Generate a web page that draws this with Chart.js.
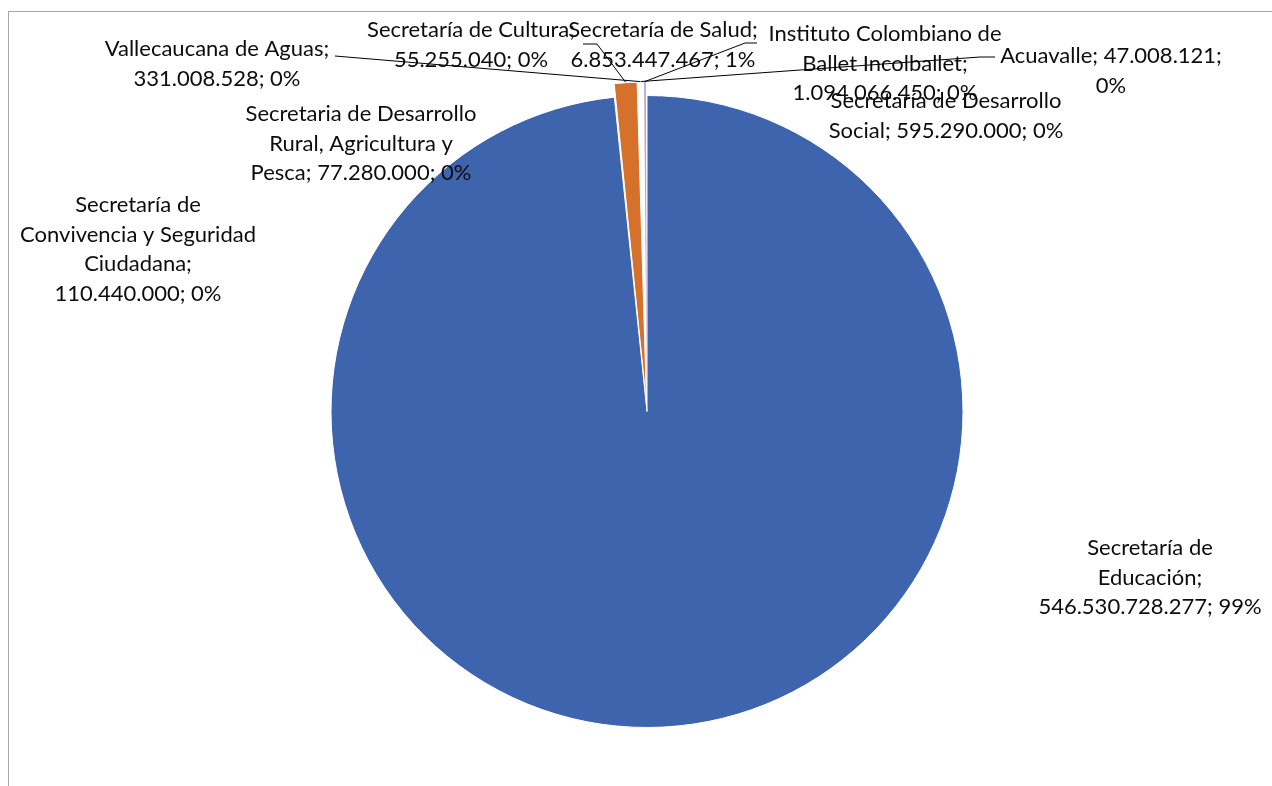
<!DOCTYPE html>
<html>
<head>
<meta charset="utf-8">
<script src="https://cdn.jsdelivr.net/npm/chart.js@4.4.1/dist/chart.umd.min.js"></script>
<style>
  html, body { margin: 0; padding: 0; background: #fff; overflow: hidden; }
  #frame { position: absolute; left: 8px; top: 11px; width: 1400px; height: 900px;
           border-left: 1px solid #a6a6a6; border-top: 1px solid #a6a6a6; }
  #pie { position: absolute; left: 0; top: 0; }
</style>
</head>
<body>
<div id="frame"></div>
<canvas id="pie" width="1272" height="786"></canvas>
<script>
var categories = [
  "Secretaría de Educación",
  "Secretaría de Salud",
  "Secretaría de Convivencia y Seguridad Ciudadana",
  "Secretaria de Desarrollo Rural, Agricultura y Pesca",
  "Secretaría de Cultura",
  "Vallecaucana de Aguas",
  "Acuavalle",
  "Secretaría de Desarrollo Social",
  "Instituto Colombiano de Ballet Incolballet"
];
var values = [546530728277, 6853447467, 110440000, 77280000, 55255040, 331008528, 47008121, 595290000, 1094066450];
var percents = ["99%", "1%", "0%", "0%", "0%", "0%", "0%", "0%", "0%"];

var sliceColors = ["#3d64ad", "#d5712b", "#6f8f55", "#3f86cc", "#6f86b8", "#5b8fd2", "#8fa6d8", "#9fb4e0", "#b7a4cf"];
var explode = [0, 28, 28, 28, 28, 28, 28, 28, 28];
var borders = [1, 1, 0, 0, 0, 0, 0, 0, 0];

// label placement: centre x, middle of first line, words per line, leader points (label side)
var labelLayout = [
  { x: 1150, y: 548, words: [2, 1, 2], leader: null },
  { x: 663, y: 30, words: [3, 2], leader: [[583, 44], [597, 44]] },
  { x: 138, y: 205, words: [2, 3, 1, 2], leader: null },
  { x: 361, y: 114, words: [3, 3, 3], leader: null },
  { x: 471, y: 30, words: [3, 2], leader: null },
  { x: 217, y: 49, words: [3, 2], leader: [[335, 56]] },
  { x: 1111, y: 56, words: [2, 1], leader: [[995, 57], [980, 57]] },
  { x: 946, y: 101, words: [3, 3], leader: null },
  { x: 885, y: 34, words: [3, 2, 2], leader: [[757, 43], [745, 43]] }
];

function fmtNum(n) {
  return String(n).replace(/\B(?=(\d{3})+(?!\d))/g, ".");
}

var pieLabels = {
  id: "pieLabels",
  afterDatasetsDraw: function (chart) {
    var ctx = chart.ctx;
    var meta = chart.getDatasetMeta(0);
    ctx.save();
    ctx.font = "22px Lato";
    ctx.fillStyle = "#0d0d0d";
    ctx.textAlign = "center";
    ctx.textBaseline = "middle";
    labelLayout.forEach(function (lay, i) {
      var tokens = (categories[i] + "; " + fmtNum(values[i]) + "; " + percents[i]).split(" ");
      var k = 0;
      lay.words.forEach(function (n, li) {
        ctx.fillText(tokens.slice(k, k + n).join(" "), lay.x, lay.y + li * 29.5);
        k += n;
      });
    });
    // leader lines
    ctx.strokeStyle = "#000";
    ctx.lineWidth = 1;
    labelLayout.forEach(function (lay, i) {
      if (!lay.leader) return;
      var arc = meta.data[i];
      var p = arc.getProps(["x", "y", "startAngle", "endAngle", "outerRadius"], true);
      var mid = (p.startAngle + p.endAngle) / 2;
      var r = p.outerRadius + explode[i] / 2;
      ctx.beginPath();
      ctx.moveTo(p.x + Math.cos(mid) * r, p.y + Math.sin(mid) * r);
      for (var j = lay.leader.length - 1; j >= 0; j--) {
        ctx.lineTo(lay.leader[j][0], lay.leader[j][1]);
      }
      ctx.stroke();
    });
    ctx.restore();
  }
};

var chart = new Chart(document.getElementById("pie"), {
  type: "pie",
  data: {
    labels: categories,
    datasets: [{
      data: values,
      backgroundColor: sliceColors,
      borderColor: "#ffffff",
      borderWidth: borders,
      offset: explode
    }]
  },
  options: {
    responsive: false,
    animation: false,
    radius: 316,
    layout: { padding: { left: 22, right: 0, top: 37, bottom: 0 } },
    plugins: {
      legend: { display: false },
      tooltip: { enabled: false }
    }
  },
  plugins: [pieLabels]
});
</script>
</body>
</html>
